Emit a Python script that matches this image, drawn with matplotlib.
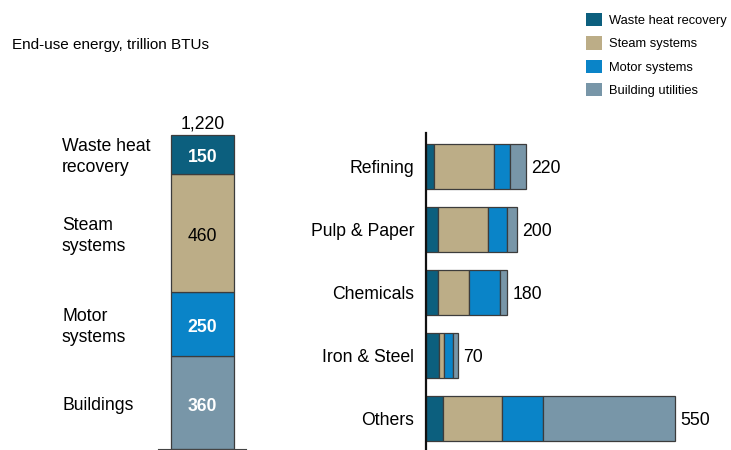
import numpy as np
import matplotlib
matplotlib.use("Agg")
import matplotlib.pyplot as plt
import matplotlib.transforms as mtransforms
from matplotlib.patches import Patch

plt.rcParams['font.family'] = ['Liberation Sans', 'DejaVu Sans']

# end-use categories (bottom to top in the total column)
uses = ['Building utilities', 'Motor systems', 'Steam systems', 'Waste heat recovery']
use_labels = ['Buildings', 'Motor\nsystems', 'Steam\nsystems', 'Waste heat\nrecovery']
total_values = [360, 250, 460, 150]
colors = ['#7896a8', '#0a84c8', '#bcad87', '#0c5f7e']
value_color = ['white', 'white', 'black', 'white']
value_weight = ['bold', 'bold', 'normal', 'bold']

# sectors, top to bottom
sectors = ['Refining', 'Pulp & Paper', 'Chemicals', 'Iron & Steel', 'Others']
waste_heat = [18, 27, 27, 28, 38]
steam = [132, 110, 67, 11, 130]
motor = [35, 42, 70, 21, 91]
building = [35, 21, 16, 10, 291]
sector_totals = [220, 200, 180, 70, 550]

W, H = 731, 450
fig = plt.figure(figsize=(W / 100, H / 100), dpi=100)

edge = '#3c3c3c'
fs = 12.7

# ---- left: total column ----
axl = fig.add_axes([158 / W, 1 / H, 88 / W, 314 * 1300 / 1220 / H])
tr = mtransforms.blended_transform_factory(fig.transFigure, axl.transData)
bottom = 0
for v, c, tc, tw, lab in zip(total_values, colors, value_color, value_weight, use_labels):
    axl.bar(0, v, width=1, bottom=bottom, color=c, edgecolor=edge, linewidth=0.9)
    axl.annotate(f'{v}', (0, bottom + v / 2), xytext=(0, -2.5), textcoords='offset points',
                 ha='center', va='center', color=tc, fontsize=fs, fontweight=tw)
    axl.annotate(lab, (62 / W, bottom + v / 2), xycoords=tr, xytext=(0, -2),
                 textcoords='offset points', ha='left', va='center',
                 fontsize=fs, linespacing=1.3)
    bottom += v
axl.text(0, bottom + 10, f'{sum(total_values):,}', ha='center', va='bottom', fontsize=fs)
axl.set_xlim(-0.706, 0.69)
axl.set_ylim(0, 1300)
for s in ['top', 'right', 'left']:
    axl.spines[s].set_visible(False)
axl.spines['bottom'].set_color('#444444')
axl.set_xticks([])
axl.set_yticks([])
axl.patch.set_visible(False)

# ---- right: sectors ----
axr = fig.add_axes([426 / W, 0, 305 / W, 317 / H])
y = np.arange(len(sectors))[::-1]
left = np.zeros(len(sectors))
for vals, c in zip([waste_heat, steam, motor, building], colors[::-1]):
    axr.barh(y, vals, left=left, height=0.714, color=c, edgecolor=edge, linewidth=0.9)
    left += np.array(vals)
for yi, t in zip(y, sector_totals):
    axr.annotate(f'{t}', (t, yi), xytext=(4, -1), textcoords='offset points',
                 ha='left', va='center', fontsize=fs)
axr.set_xlim(0, 305 / 0.4527)
axr.set_ylim(-0.497, 4.535)
axr.set_yticks(y)
axr.set_yticklabels(sectors, fontsize=fs)
axr.tick_params(axis='y', length=0, pad=8.5)
axr.set_xticks([])
for s in ['top', 'right', 'bottom']:
    axr.spines[s].set_visible(False)
axr.spines['left'].set_linewidth(1.6)
axr.spines['left'].set_color('#111111')
axr.patch.set_visible(False)

# ---- title and legend ----
fig.text(12 / W, 1 - 45 / H, 'End-use energy, trillion BTUs', ha='left', va='center', fontsize=11)

handles = [Patch(facecolor=c, edgecolor='none') for c in colors[::-1]]
fig.legend(handles, uses[::-1], loc='upper left', bbox_to_anchor=(581 / W, 1 - 8 / H),
           frameon=False, fontsize=9.3, handlelength=1.2, handleheight=1.2,
           handletextpad=0.55, labelspacing=0.72, borderaxespad=0)

fig.savefig('out.png', dpi=100)
